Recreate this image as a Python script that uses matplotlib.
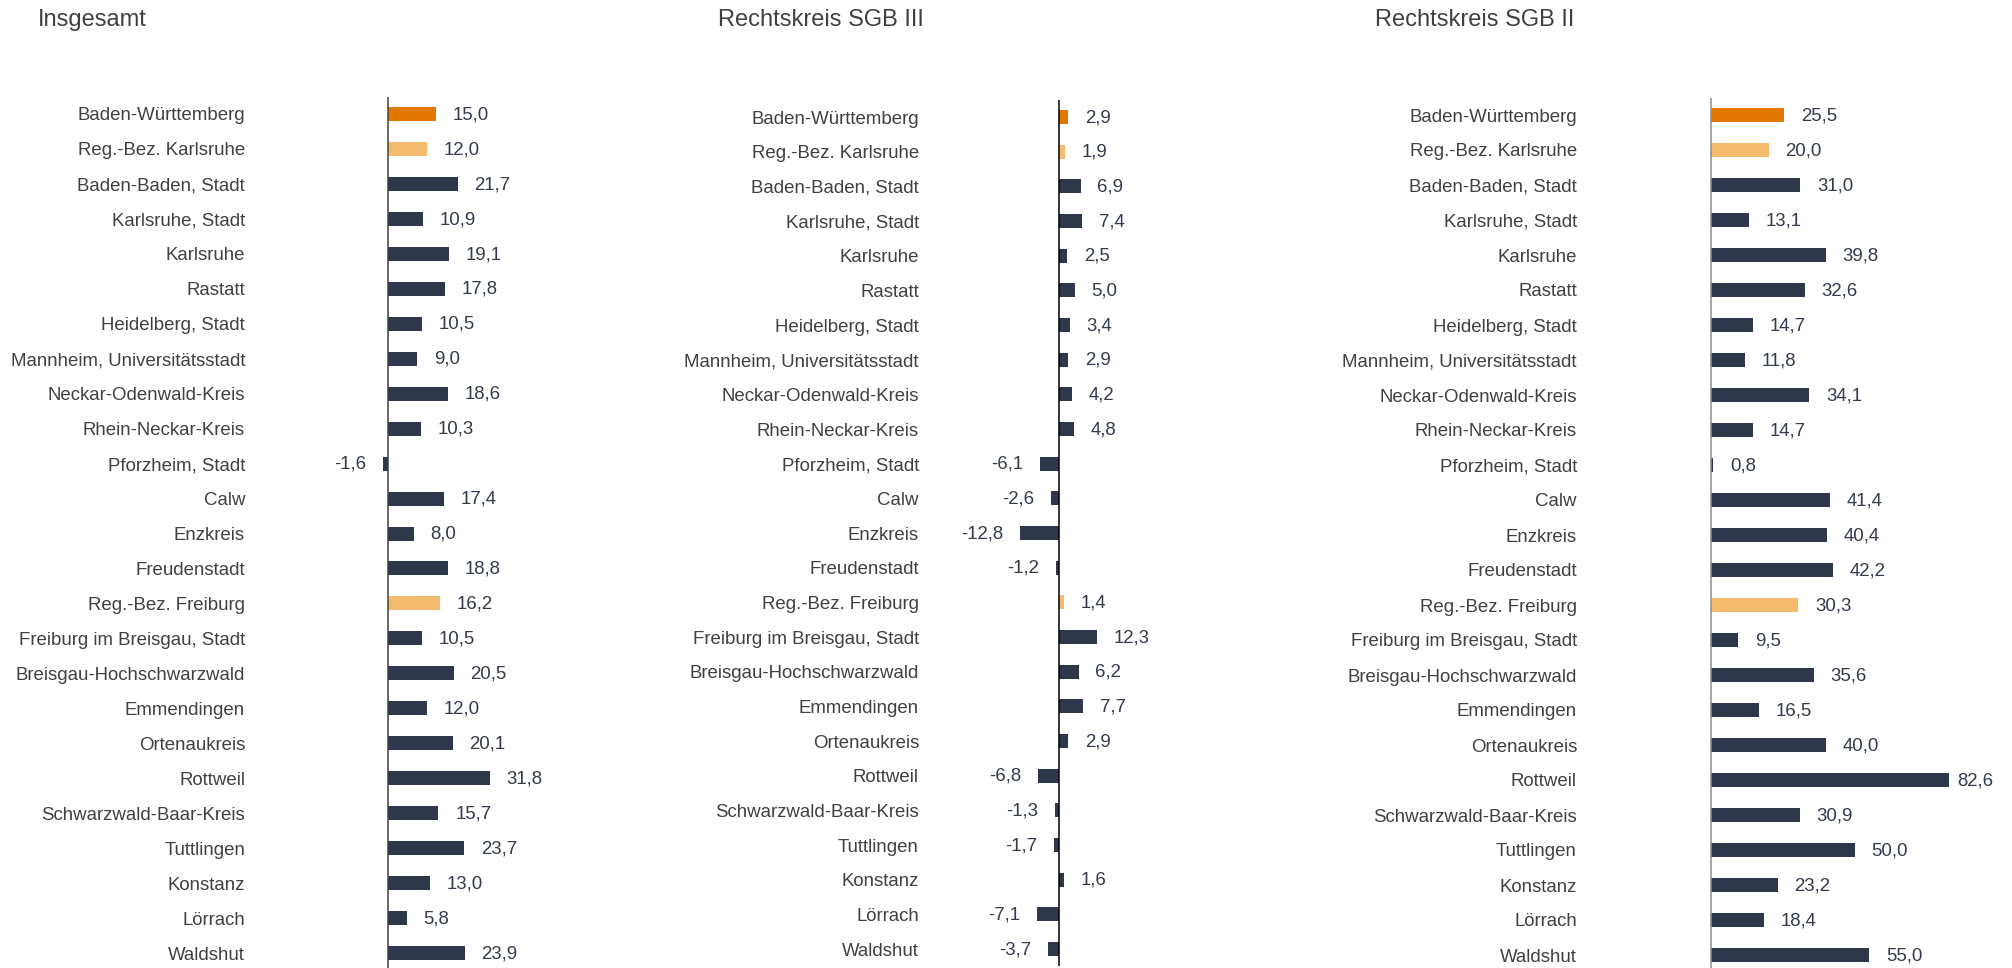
import matplotlib.pyplot as plt

plt.rcParams['font.family'] = ['Liberation Sans', 'DejaVu Sans']

regions = [
    "Baden-Württemberg", "Reg.-Bez. Karlsruhe", "Baden-Baden, Stadt", "Karlsruhe, Stadt",
    "Karlsruhe", "Rastatt", "Heidelberg, Stadt", "Mannheim, Universitätsstadt",
    "Neckar-Odenwald-Kreis", "Rhein-Neckar-Kreis", "Pforzheim, Stadt", "Calw",
    "Enzkreis", "Freudenstadt", "Reg.-Bez. Freiburg", "Freiburg im Breisgau, Stadt",
    "Breisgau-Hochschwarzwald", "Emmendingen", "Ortenaukreis", "Rottweil",
    "Schwarzwald-Baar-Kreis", "Tuttlingen", "Konstanz", "Lörrach", "Waldshut",
]

insgesamt = [15.0, 12.0, 21.7, 10.9, 19.1, 17.8, 10.5, 9.0, 18.6, 10.3, -1.6, 17.4, 8.0,
             18.8, 16.2, 10.5, 20.5, 12.0, 20.1, 31.8, 15.7, 23.7, 13.0, 5.8, 23.9]
sgb3 = [2.9, 1.9, 6.9, 7.4, 2.5, 5.0, 3.4, 2.9, 4.2, 4.8, -6.1, -2.6, -12.8,
        -1.2, 1.4, 12.3, 6.2, 7.7, 2.9, -6.8, -1.3, -1.7, 1.6, -7.1, -3.7]
sgb2 = [25.5, 20.0, 31.0, 13.1, 39.8, 32.6, 14.7, 11.8, 34.1, 14.7, 0.8, 41.4, 40.4,
        42.2, 30.3, 9.5, 35.6, 16.5, 40.0, 82.6, 30.9, 50.0, 23.2, 18.4, 55.0]

titles = ["Insgesamt", "Rechtskreis SGB III", "Rechtskreis SGB II"]

NAVY = "#2f374b"
ORANGE = "#e37800"
LIGHT = "#f3bb6b"
colors = [NAVY] * len(regions)
colors[0] = ORANGE
colors[1] = LIGHT
colors[14] = LIGHT

W, H = 2012, 968
fig = plt.figure(figsize=(W / 100, H / 100), dpi=100)

# pixel layout per panel: axes left, zero line, px per unit, axes right,
# first row centre, row spacing, axis line colour, title x
panels = [
    (insgesamt, 255, 388.4, 3.19, 640, 114.0, 34.96, "#404040", 38),
    (sgb3, 929, 1059.3, 3.10, 1330, 117.0, 34.67, "#000000", 718),
    (sgb2, 1587, 1711.0, 2.88, 2012, 115.0, 35.0, "#8c8c8c", 1375),
]

n = len(regions)
for (vals, left, zero, scale, right, first, step, axcol, tx), title in zip(panels, titles):
    top = first - step / 2
    bottom = top + n * step
    ax = fig.add_axes([left / W, (H - bottom) / H, (right - left) / W, (bottom - top) / H])
    ax.set_xlim((left - zero) / scale, (right - zero) / scale)
    ax.set_ylim(n - 0.5, -0.5)
    ax.barh(range(n), vals, height=0.4, color=colors)
    for i, v in enumerate(vals):
        # long bars near the right edge get their label pulled in closer
        pad = 6 if v > 70 else 12
        ax.annotate(f"{v:.1f}".replace(".", ","), (v, i),
                    xytext=(pad if v >= 0 else -pad, -0.5), textcoords="offset points",
                    ha="left" if v >= 0 else "right", va="center",
                    fontsize=13.4, color="#333a4c")
    ax.axvline(0, color=axcol, lw=1.1)
    ax.set_yticks(range(n), regions)
    ax.tick_params(axis="y", length=0, pad=7.2, labelsize=13.4, labelcolor="#404040")
    ax.set_xticks([])
    for s in ax.spines.values():
        s.set_visible(False)
    ax.patch.set_alpha(0)
    fig.text(tx / W, 1 - 20 / H, title, fontsize=17, color="#404040", va="center", ha="left")

fig.savefig("out.png", dpi=100)
